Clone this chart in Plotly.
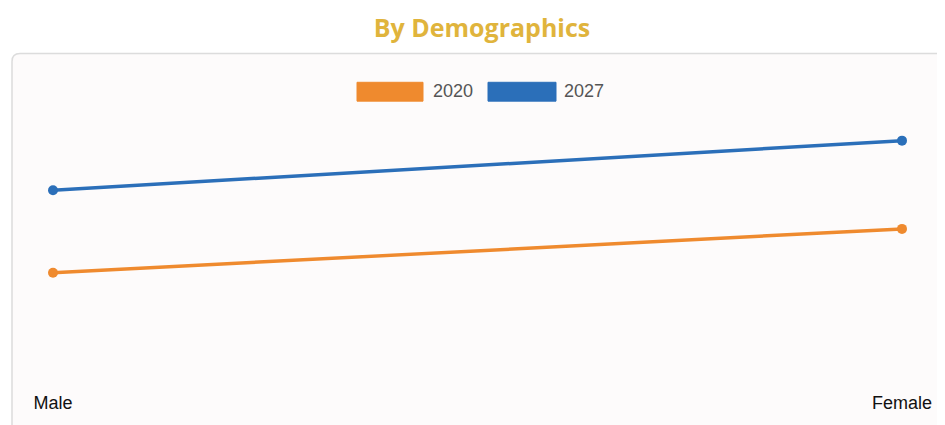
import plotly.graph_objects as go

categories = ["Male", "Female"]
series_names = ["2020", "2027"]
values_2020 = [40.8, 57.8]
values_2027 = [72.8, 92.0]
colors = ["#EF8A2E", "#2B6FB9"]

OFF = 8  # default page body margin
W, H = 945 - OFF, 425 - OFF
# desired plot area in page pixels: x 53..902, y 120..380
PX0, PX1, PY0, PY1 = 53, 902, 120, 380
L, T = PX0 - OFF, PY0 - OFF
pw, ph = PX1 - PX0, PY1 - PY0
R, B = W - L - pw, H - T - ph

def px2x(px):
    return (px - PX0) / pw

def py2y(py):
    return (PY1 - py) / ph

fig = go.Figure()
for name, vals, col in zip(series_names, [values_2020, values_2027], colors):
    fig.add_trace(go.Scatter(
        x=categories, y=vals, name=name, mode="lines+markers",
        line=dict(color=col, width=3.5),
        marker=dict(color=col, size=10),
        cliponaxis=False, showlegend=False,
    ))

# card background with rounded top-left corner
x0, y0, x1, y1 = px2x(12), py2y(53), px2x(960), py2y(440)
rx, ry = 8 / pw, 8 / ph
card_path = (f"M{x0},{y1} L{x0},{y0 - ry} Q{x0},{y0} {x0 + rx},{y0} "
             f"L{x1},{y0} L{x1},{y1} Z")
shapes = [dict(type="path", xref="paper", yref="paper", path=card_path,
               fillcolor="#FDFBFB", line=dict(color="#DCDCDC", width=1.5),
               layer="below")]

# legend boxes
annotations = []
leg = [(357, 423, 431), (488, 556, 562)]
for (a, b, tx), name, col in zip(leg, series_names, colors):
    shapes.append(dict(type="rect", xref="paper", yref="paper",
                       x0=px2x(a), x1=px2x(b), y0=py2y(101), y1=py2y(82),
                       fillcolor=col, line=dict(color=col, width=1)))
    annotations.append(dict(text=name, xref="paper", yref="paper",
                            x=px2x(tx), y=py2y(91), xanchor="left", yanchor="middle",
                            showarrow=False,
                            font=dict(family="Liberation Sans, Arial", size=18, color="#555555")))

fig.update_layout(
    width=W, height=H,
    margin=dict(l=L, r=R, t=T, b=B),
    paper_bgcolor="white", plot_bgcolor="rgba(0,0,0,0)",
    title=dict(text="By Demographics", x=(482 - OFF) / W, xref="container", xanchor="center",
               y=1 - (28 - OFF) / H, yref="container", yanchor="middle",
               font=dict(family="Open Sans", size=25, weight="bold", color="#E0B43C")),
    shapes=shapes, annotations=annotations,
    xaxis=dict(type="category", range=[0, 1], showgrid=False, zeroline=False,
               showline=False, ticks="outside", ticklen=8, tickcolor="rgba(0,0,0,0)",
               tickfont=dict(family="Liberation Sans, Arial", size=18, color="#111111")),
    yaxis=dict(range=[0, 100], visible=False, showgrid=False, zeroline=False),
    showlegend=False,
)

fig.write_html("out.html")
